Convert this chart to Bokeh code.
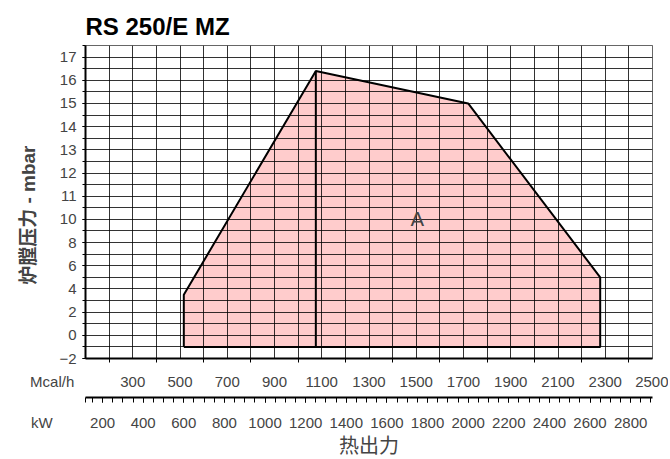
from bokeh.plotting import figure
from bokeh.models import Range1d, LinearAxis, FixedTicker, Grid
from bokeh.embed import file_html
from bokeh.resources import INLINE
from bokeh.core.properties import value

# ---------------- data ----------------
title_text = "RS 250/E MZ"
kw_x = [600, 600, 1250, 2000, 2650, 2650]          # kW
mbar_y = [-1, 3.5, 16.4, 15.0, 5.0, -1]             # mbar
split_x = [1250, 1250]
split_y = [-1, 16.4]
area_label = ["A"]
area_x = [1750]
area_y = [10]
y_tick_values = [-2, 0, 2, 4, 6, 8, 10, 11, 12, 13, 14, 15, 16, 17]
mcal_labels = [300, 500, 700, 900, 1100, 1300, 1500, 1700, 1900, 2100, 2300, 2500]
mcal_ticks = [200, 400, 600, 800, 1000, 1200, 1400, 1600, 1800, 2000, 2200, 2400]
mcal_grid = list(range(200, 2500, 100))
kw_labels = [200, 400, 600, 800, 1000, 1200, 1400, 1600, 1800, 2000, 2200, 2400, 2600, 2800]
kw_minor = list(range(150, 2901, 50))
unit_names = ["Mcal/h", "kW"]
mcal_min, mcal_max = 100, 2500
kw_min, kw_max = 116, 2907.5          # same span expressed in kW

def fy(v):
    # broken pressure axis: 2 mbar per step below 10, 1 mbar per step above
    return v if v >= 10 else 5 + v / 2.0

NUM_FONT = "Liberation Sans"
NUM_SIZE = "15px"
MIX_FONT = "'Liberation Sans', 'Noto Sans CJK SC', sans-serif"
NB = "\u00a0"

W, H = 668, 459
p = figure(width=W, height=H, output_backend="svg", toolbar_location=None,
           x_range=Range1d(kw_min, kw_max),
           y_range=Range1d(4, 17.5),
           x_axis_location=None, y_axis_location="left",
           min_border_left=85, min_border_right=W - 652, min_border_top=45,
           min_border_bottom=H - 359,
           title=title_text)
p.extra_x_ranges = {"mcal": Range1d(mcal_min, mcal_max)}

p.title.text_font = "Liberation Sans"
p.title.text_font_size = "24px"
p.title.text_font_style = "bold"
p.title.text_color = "black"
p.title.align = "left"
p.title.standoff = 12
p.title.offset = 0

p.outline_line_color = "black"
p.outline_line_alpha = 0.6
p.outline_line_width = 1
p.background_fill_color = "white"
p.border_fill_color = "white"

# grids
p.xgrid.visible = False
p.ygrid.visible = False
vgrid = Grid(dimension=0, x_range_name="mcal", ticker=FixedTicker(ticks=mcal_grid),
             grid_line_color="black", grid_line_alpha=0.8, grid_line_width=1)
hgrid = Grid(dimension=1, ticker=FixedTicker(ticks=[4 + 0.5 * i for i in range(1, 27)]),
             grid_line_color="black", grid_line_alpha=0.8, grid_line_width=1)
p.add_layout(vgrid)
p.add_layout(hgrid)

# y axis
ya = p.yaxis[0]
ya.ticker = FixedTicker(ticks=[int(fy(v)) for v in y_tick_values],
                        minor_ticks=[4 + 0.5 * i for i in range(0, 28)])
ya.major_label_overrides = {int(fy(v)): ("\u2212" + str(-v) if v < 0 else str(v)) for v in y_tick_values}
ya.axis_line_width = 2
ya.major_tick_out = 3
ya.major_tick_in = 0
ya.minor_tick_out = 3
ya.minor_tick_in = 0
ya.major_label_standoff = 6
ya.major_label_text_font = NUM_FONT
ya.major_label_text_font_size = NUM_SIZE
ya.axis_label = "炉膛压力 - mbar" + NB * 5
ya.axis_label_text_font = MIX_FONT
ya.axis_label_text_font_size = "19px"
ya.axis_label_text_font_style = "bold"
ya.axis_label_standoff = 17

# Mcal/h axis (directly under the frame); unit name sits at the left end
ma = LinearAxis(x_range_name="mcal",
                ticker=FixedTicker(ticks=[mcal_min] + mcal_labels, minor_ticks=mcal_ticks))
ma.major_label_overrides = {mcal_min: unit_names[0] + NB * 16}
ma.axis_line_width = 2
ma.major_tick_out = 0
ma.major_tick_in = 0
ma.minor_tick_out = 4
ma.minor_tick_in = 0
ma.major_label_standoff = 10
ma.major_label_text_font = NUM_FONT
ma.major_label_text_font_size = NUM_SIZE
ma.axis_label = NB
ma.axis_label_text_font_size = "2px"
ma.axis_label_standoff = 0
p.add_layout(ma, "below")

# kW axis
ka = LinearAxis(ticker=FixedTicker(ticks=[kw_min] + kw_labels, minor_ticks=kw_minor))
ka.major_label_overrides = {kw_min: unit_names[1] + NB * 21}
ka.axis_line_width = 2
ka.major_tick_out = 5
ka.major_tick_in = 0
ka.minor_tick_out = 5
ka.minor_tick_in = 0
ka.major_label_standoff = 11
ka.major_label_text_font = NUM_FONT
ka.major_label_text_font_size = NUM_SIZE
ka.axis_label = "热出力"
ka.axis_label_text_font = MIX_FONT
ka.axis_label_text_font_size = "20px"
ka.axis_label_text_font_style = "normal"
ka.axis_label_standoff = 1
p.add_layout(ka, "below")

# working field
fy_vals = [fy(v) for v in mbar_y]
p.patch(kw_x, fy_vals, fill_color="#FFCCCC", line_color=None, level="image")
p.line(kw_x + kw_x[:1], fy_vals + fy_vals[:1], line_color="black", line_width=2)
p.line(split_x, [fy(v) for v in split_y], line_color="black", line_width=2)
p.text(area_x, [fy(v) for v in area_y], text=area_label, text_align="center",
       text_baseline="middle", text_font_size="20px", text_font=value("DejaVu Sans"),
       text_color="#444444")

open("out.html", "w").write(file_html(p, INLINE))
